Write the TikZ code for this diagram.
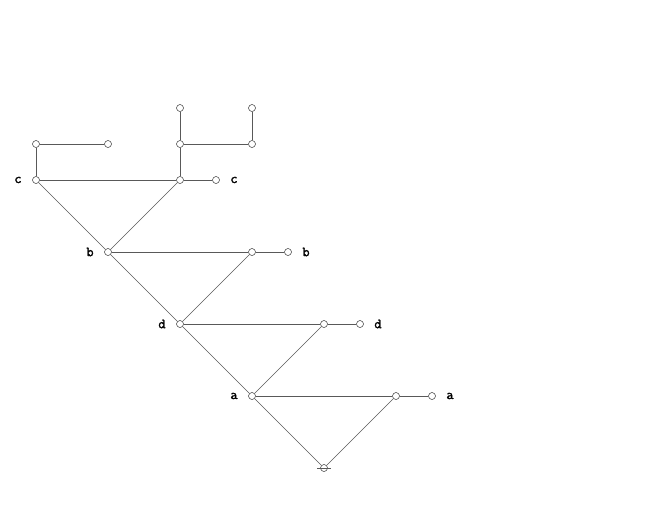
\documentclass[tikz,border=0pt]{standalone}
\usepackage{fontspec}
\newfontfamily\lblfont{Latin Modern Mono}[FakeBold=2]
\begin{document}
\begin{tikzpicture}[x=1pt,y=-1pt,
  vtx/.style={circle,draw=black!80,fill=white,inner sep=0pt,minimum size=7pt,line width=0.5pt},
  edge/.style={line width=0.5pt,draw=black!65},
  lbl/.style={font=\lblfont\fontsize{14}{15}\selectfont,inner sep=0pt}]
\useasboundingbox (0,0) rectangle (648,504);
% vertices
\node[vtx] (c1) at (36,180) {};
\node[vtx] (p1) at (36,144) {};
\node[vtx] (p2) at (108,144) {};
\node[vtx] (q1) at (180,108) {};
\node[vtx] (q2) at (252,108) {};
\node[vtx] (q3) at (180,144) {};
\node[vtx] (q4) at (252,144) {};
\node[vtx] (c2) at (180,180) {};
\node[vtx] (c3) at (216,180) {};
\node[vtx] (b1) at (108,252) {};
\node[vtx] (b2) at (252,252) {};
\node[vtx] (b3) at (288,252) {};
\node[vtx] (d1) at (180,324) {};
\node[vtx] (d2) at (324,324) {};
\node[vtx] (d3) at (360,324) {};
\node[vtx] (a1) at (252,396) {};
\node[vtx] (a2) at (396,396) {};
\node[vtx] (a3) at (432,396) {};
\node[vtx] (r) at (324,468) {};
\coordinate (rl) at (317,468);
\coordinate (rr) at (331,468);
% labels
\node[lbl] (lc1) at (18,180) {c};
\node[lbl] (lc2) at (234,180) {c};
\node[lbl] (lb1) at (90,252) {b};
\node[lbl] (lb2) at (306,252) {b};
\node[lbl] (ld1) at (162,324) {d};
\node[lbl] (ld2) at (378,324) {d};
\node[lbl] (la1) at (234,396) {a};
\node[lbl] (la2) at (450,396) {a};
% edges
\draw[edge] (c1) -- (p1) (p1) -- (p2);
\draw[edge] (q1) -- (q3) (q3) -- (q4) (q4) -- (q2) (q3) -- (c2);
\draw[edge] (c1) -- (c2) (c2) -- (c3);
\draw[edge] (c1) -- (b1) (c2) -- (b1);
\draw[edge] (b1) -- (b2) (b2) -- (b3);
\draw[edge] (b1) -- (d1) (b2) -- (d1);
\draw[edge] (d1) -- (d2) (d2) -- (d3);
\draw[edge] (d1) -- (a1) (d2) -- (a1);
\draw[edge] (a1) -- (a2) (a2) -- (a3);
\draw[edge] (a1) -- (r) (a2) -- (r);
\draw[edge] (rl) -- (rr);
\end{tikzpicture}
\end{document}
